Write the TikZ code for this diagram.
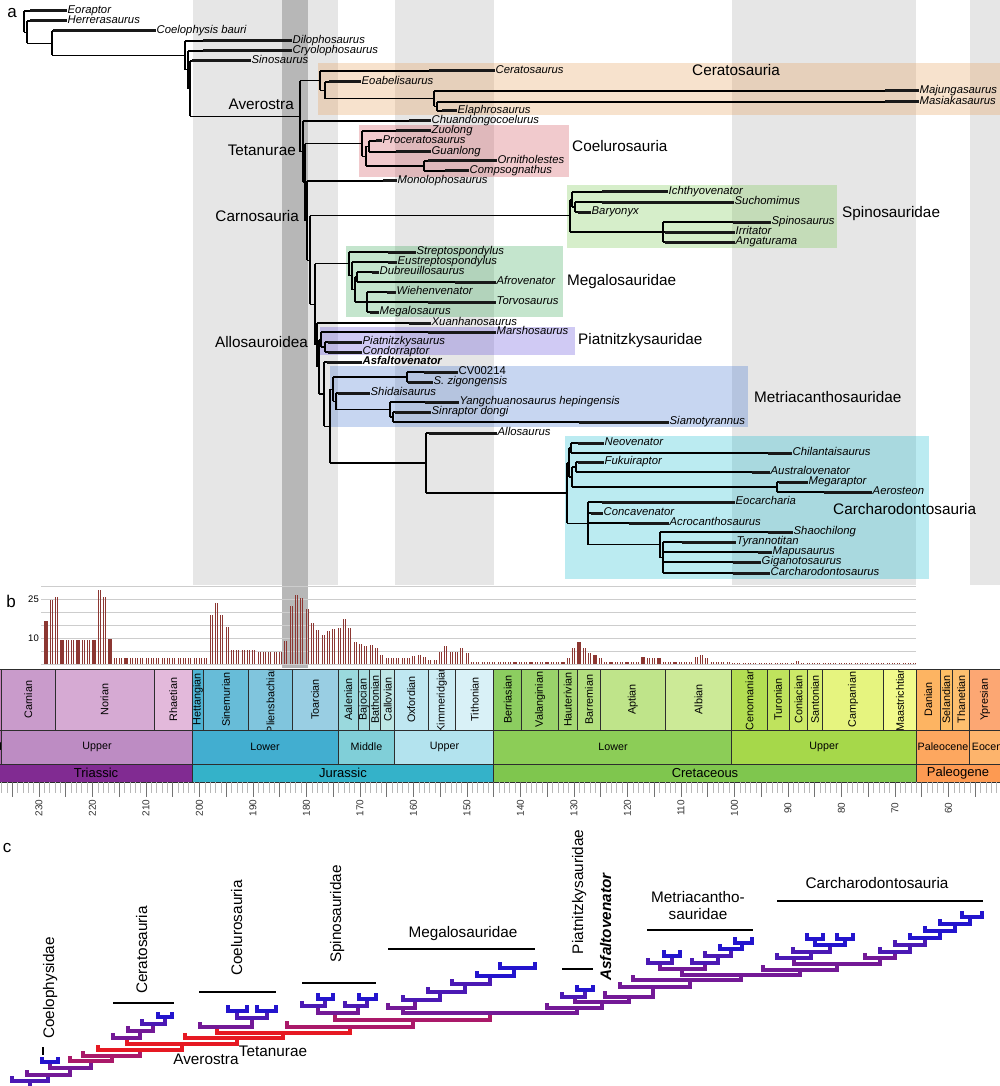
\documentclass[tikz,border=0pt]{standalone}
\usepackage{fontspec}
\setmainfont{Liberation Sans}
\definecolor{lg}{RGB}{230,230,230}
\definecolor{dg}{RGB}{183,183,183}
\definecolor{tsline}{RGB}{45,45,45}
\definecolor{barc}{RGB}{140,55,50}
\definecolor{gridc}{RGB}{205,205,205}
\definecolor{cB}{RGB}{35,20,205}
\definecolor{cBP}{RGB}{75,25,180}
\definecolor{cP}{RGB}{115,25,150}
\definecolor{cRP}{RGB}{170,25,105}
\definecolor{cR}{RGB}{230,25,35}
\definecolor{bxCer}{RGB}{230,160,90}
\definecolor{bxCoe}{RGB}{210,80,90}
\definecolor{bxSpi}{RGB}{120,200,80}
\definecolor{bxMeg}{RGB}{60,170,90}
\definecolor{bxPia}{RGB}{100,80,220}
\definecolor{bxMet}{RGB}{70,120,210}
\definecolor{bxCar}{RGB}{30,190,210}
\tikzset{
 br/.style={line width=1.1pt, black},
 bar/.style={line width=3pt, black!90},
 tx/.style={font=\fontsize{11.3}{12}\selectfont\itshape, inner sep=1pt, text height=8pt, text depth=2.2pt},
 clade/.style={font=\fontsize{15.3}{17}\selectfont, inner sep=0pt, text height=11pt, text depth=3pt},
 panel/.style={font=\fontsize{17}{19}\selectfont, inner sep=0pt},
 ylab/.style={font=\fontsize{9.5}{10}\selectfont, inner sep=1pt},
 stl/.style={font=\fontsize{10.8}{12}\selectfont, inner sep=0pt},
 epl/.style={font=\fontsize{10.7}{12}\selectfont, inner sep=0pt},
 pel/.style={font=\fontsize{13}{14}\selectfont, inner sep=0pt},
 tsl/.style={draw=tsline, line width=0.9pt},
 tkL/.style={draw=black!55, line width=0.8pt},
 tkS/.style={draw=black!28, line width=0.7pt},
 tlab/.style={font=\fontsize{10}{11}\selectfont, inner sep=0pt, text=black!80},
 barline/.style={draw=barc, line width=1.1pt},
 cline/.style={line width=3.4pt, line join=miter, line cap=butt},
 cbar/.style={line width=2pt, black},
 box/.style={opacity=0.3}
}
% leaf: [style]{name}{node x}{bar start}{label x}{y}{text}
\newcommand\leafx[7][]{%
 \draw[br] (#3,#6) -- (#4,#6);
 \node[tx,anchor=west,#1] (#2) at ({#5-1.5},#6) {#7};
 \draw[bar] (#4,#6) -- (#2.west);
}
\newcommand\vn[3]{\draw[br] (#1,#2) -- (#1,#3);}
\newcommand\hn[3]{\draw[br] (#1,#3) -- (#2,#3);}
\newcommand\cbk[6]{\draw[cline,#6] (#1,#4) -- (#1,#3) -- (#2,#3) -- (#2,#5);}
\newcommand\tsstage[4]{%
 \definecolor{tscol}{HTML}{#3}%
 \pgfmathsetmacro\tsa{1269.5-5.35*#1}%
 \pgfmathsetmacro\tsb{1269.5-5.35*#2}%
 \pgfmathsetmacro\tsm{(max(\tsa,0)+min(\tsb,1000))/2}%
 \fill[tscol] (\tsa,669) rectangle (\tsb,730);
 \begin{scope}\clip (\tsa,669) rectangle (\tsb,730);
 \node[stl,rotate=90] (st#4) at (\tsm,699.5) {#4};
 \end{scope}
 \draw[tsl] (\tsa,669) rectangle (\tsb,730);
}
\newcommand\tsepoch[6]{%
 \definecolor{tscol}{HTML}{#3}%
 \pgfmathsetmacro\tsa{1269.5-5.35*#1}%
 \pgfmathsetmacro\tsb{1269.5-5.35*#2}%
 \filldraw[fill=tscol,tsl] (\tsa,730) rectangle (\tsb,764);
 \node[epl] (#6) at (#5,747) {#4};
}
\newcommand\tsperiod[6]{%
 \definecolor{tscol}{HTML}{#3}%
 \pgfmathsetmacro\tsa{1269.5-5.35*#1}%
 \pgfmathsetmacro\tsb{1269.5-5.35*#2}%
 \filldraw[fill=tscol,tsl] (\tsa,764) rectangle (\tsb,782);
 \node[pel] (#6) at (#5,773) {#4};
}
\begin{document}
\begin{tikzpicture}[x=1pt,y=-1pt]
\useasboundingbox (0,0) rectangle (1000,1086);
\fill[white] (0,0) rectangle (1000,1086);
% ---------- stripes ----------
\fill[lg] (192.5,0) rectangle (338,585);
\fill[lg] (394.8,0) rectangle (494,585);
\fill[lg] (731.8,0) rectangle (916.4,585);
\fill[lg] (970,0) rectangle (1000,585);
\fill[dg] (282,0) rectangle (308,668);
% ---------- clade boxes ----------
\fill[bxCer,box] (318,63) rectangle (1000,115);
\fill[bxCoe,box] (359,125) rectangle (569,177);
\fill[bxSpi,box] (567,185) rectangle (837,248);
\fill[bxMeg,box] (346,246) rectangle (563,317);
\fill[bxPia,box] (320,327) rectangle (575,355);
\fill[bxMet,box] (330,366) rectangle (748,427);
\fill[bxCar,box] (565,436) rectangle (929,579);
% ---------- panel a: tree ----------
\node[panel] (pa) at (12,13) {a};
\vn{24}{11}{32.1} \vn{27}{21}{43.2} \vn{52}{31}{55.4} \vn{185}{41}{69.8}
\vn{188}{51}{88.6} \vn{190}{61}{116.2} \vn{300}{80.7}{151.6}
\vn{320}{71}{90.4} \vn{325}{82}{98.75} \vn{434}{91}{106.5} \vn{437}{102}{111}
\vn{303}{121}{182.1} \vn{305}{143.6}{220.6} \vn{362}{131}{156.3} \vn{366}{146.5}{166}
\vn{369}{141}{152} \vn{424}{161}{171} \vn{307}{181}{260.1} \vn{310}{215.8}{304.4}
\vn{570}{199.5}{232} \vn{572}{192}{207} \vn{575}{202}{212} \vn{663}{222}{242}
\vn{315}{263.9}{344.9} \vn{349}{252}{275.8} \vn{352}{262}{289.5} \vn{355}{277}{302}
\vn{357}{272}{282} \vn{367}{292}{312}
\vn{317}{323}{366.8} \vn{319}{339.5}{394} \vn{321}{332}{347} \vn{325}{342}{352}
\vn{324}{362}{426.1} \vn{330}{389.2}{463} \vn{333}{377}{401.3} \vn{407}{372}{382}
\vn{336}{393}{409.5} \vn{390}{402}{417} \vn{393}{412}{422}
\vn{426}{433}{493} \vn{567}{462.5}{523.4} \vn{569}{448}{477} \vn{571}{443}{453}
\vn{572}{467}{487} \vn{576}{462}{472} \vn{777}{482}{492} \vn{588}{502}{544.8}
\vn{660}{532}{557.5} \vn{663}{542}{573}
\hn{24}{27}{32.1} \hn{27}{52}{43.2} \hn{52}{185}{55.4} \hn{185}{188}{69.8}
\hn{188}{190}{88.6} \hn{190}{300}{116.2} \hn{300}{320}{80.7} \hn{320}{325}{90.4}
\hn{325}{434}{98.75} \hn{434}{437}{106.5} \hn{300}{303}{151.6} \hn{303}{305}{182.1}
\hn{305}{362}{143.6} \hn{362}{366}{156.3} \hn{366}{369}{146.5} \hn{366}{424}{166}
\hn{305}{307}{220.6} \hn{307}{310}{260.1} \hn{310}{570}{215.8} \hn{570}{572}{199.5}
\hn{572}{575}{207} \hn{570}{663}{232} \hn{310}{315}{304.4} \hn{315}{349}{263.9}
\hn{349}{352}{275.8} \hn{352}{355}{289.5} \hn{355}{357}{277} \hn{355}{367}{302}
\hn{315}{317}{344.9} \hn{317}{319}{366.8} \hn{319}{321}{339.5} \hn{321}{325}{347}
\hn{319}{324}{394} \hn{324}{330}{426.1} \hn{330}{333}{389.2} \hn{333}{407}{377}
\hn{333}{336}{401.3} \hn{336}{390}{409.5} \hn{390}{393}{417} \hn{330}{426}{463}
\hn{426}{567}{493} \hn{567}{569}{462.5} \hn{569}{571}{448} \hn{569}{572}{477}
\hn{572}{576}{467} \hn{572}{777}{487} \hn{567}{588}{523.4} \hn{588}{660}{544.8}
\hn{660}{663}{557.5}
\leafx{eor}{24}{30}{68}{11}{Eoraptor}
\leafx{her}{27}{30}{68}{21}{Herrerasaurus}
\leafx{coe}{52}{53}{157}{31}{Coelophysis bauri}
\leafx{dil}{185}{203}{293}{41}{Dilophosaurus}
\leafx{cry}{188}{203}{293}{51}{Cryolophosaurus}
\leafx{sin}{190}{192}{252}{61}{Sinosaurus}
\leafx{cer}{320}{429}{496}{71}{Ceratosaurus}
\leafx{eoa}{325}{329}{362}{82}{Eoabelisaurus}
\leafx{maj}{434}{885}{920}{91}{Majungasaurus}
\leafx{mas}{437}{885}{920}{102}{Masiakasaurus}
\leafx{ela}{437}{442}{458}{111}{Elaphrosaurus}
\leafx{chu}{303}{409}{432}{121}{Chuandongocoelurus}
\leafx{zuo}{362}{396}{432}{131}{Zuolong}
\leafx{pro}{369}{376}{383}{141}{Proceratosaurus}
\leafx{gua}{369}{396}{432}{152}{Guanlong}
\leafx{orn}{424}{428}{498}{161}{Ornitholestes}
\leafx{com}{424}{445}{470}{171}{Compsognathus}
\leafx{mon}{307}{383}{398}{181}{Monolophosaurus}
\leafx{ich}{572}{602}{669}{192}{Ichthyovenator}
\leafx{suc}{575}{602}{735}{202}{Suchomimus}
\leafx{bry}{575}{578}{592}{212}{Baryonyx}
\leafx{spi}{663}{733}{772}{222}{Spinosaurus}
\leafx{irr}{663}{665}{736}{232}{Irritator}
\leafx{ang}{663}{665}{736}{242}{Angaturama}
\leafx{stp}{349}{388}{417}{252}{Streptospondylus}
\leafx{eus}{352}{388}{398}{262}{Eustreptospondylus}
\leafx{dub}{357}{372}{380}{272}{Dubreuillosaurus}
\leafx{afr}{357}{455}{497}{282}{Afrovenator}
\leafx{wie}{367}{387}{397}{292}{Wiehenvenator}
\leafx{tor}{367}{428}{497}{302}{Torvosaurus}
\leafx{meg}{367}{370}{380}{312}{Megalosaurus}
\leafx{xua}{317}{409}{432}{323}{Xuanhanosaurus}
\leafx{mar}{321}{428}{497}{332}{Marshosaurus}
\leafx{pia}{325}{328}{363}{342}{Piatnitzkysaurus}
\leafx{con}{325}{328}{363}{352}{Condorraptor}
\leafx[font=\fontsize{11.3}{12}\selectfont\bfseries\itshape]{asf}{324}{327}{363}{362}{Asfaltovenator}
\leafx[font=\fontsize{11.3}{12}\selectfont\upshape]{cv}{407}{424}{459}{372}{CV00214}
\leafx{szi}{407}{408}{434}{382}{S. zigongensis}
\leafx{shi}{336}{338}{371}{393}{Shidaisaurus}
\leafx{yan}{390}{425}{460}{402}{Yangchuanosaurus hepingensis}
\leafx{sid}{393}{395}{432}{412}{Sinraptor dongi}
\leafx{sia}{393}{579}{670}{422}{Siamotyrannus}
\leafx{als}{426}{429}{498}{433}{Allosaurus}
\leafx{neo}{571}{578}{605}{443}{Neovenator}
\leafx{chi}{571}{768}{793}{453}{Chilantaisaurus}
\leafx{fuk}{576}{578}{605}{462}{Fukuiraptor}
\leafx{aus}{576}{752}{771}{472}{Australovenator}
\leafx{mgr}{777}{779}{809}{482}{Megaraptor}
\leafx{aer}{777}{824}{873}{492}{Aerosteon}
\leafx{eoc}{588}{602}{736}{502}{Eocarcharia}
\leafx{cnc}{588}{591}{604}{513}{Concavenator}
\leafx{acr}{588}{629}{670}{523}{Acrocanthosaurus}
\leafx{sha}{660}{768}{794}{532}{Shaochilong}
\leafx{tyr}{663}{682}{737}{542}{Tyrannotitan}
\leafx{map}{663}{758}{773}{552}{Mapusaurus}
\leafx{gig}{663}{733}{762}{562}{Giganotosaurus}
\leafx{car}{663}{733}{771}{573}{Carcharodontosaurus}
\node[clade,anchor=west] (lCer) at (692,72) {Ceratosauria};
\node[clade,anchor=west] (lCoe) at (572,148) {Coelurosauria};
\node[clade,anchor=west] (lSpi) at (842,214) {Spinosauridae};
\node[clade,anchor=west] (lMeg) at (567,281) {Megalosauridae};
\node[clade,anchor=west] (lPia) at (578,340) {Piatnitzkysauridae};
\node[clade,anchor=west] (lMet) at (754,398) {Metriacanthosauridae};
\node[clade,anchor=west] (lCar) at (833,510) {Carcharodontosauria};
\node[clade,anchor=east] (lAve) at (294,106) {Averostra};
\node[clade,anchor=east] (lTet) at (296,152) {Tetanurae};
\node[clade,anchor=east] (lCarn) at (299,218) {Carnosauria};
\node[clade,anchor=east] (lAll) at (308,343) {Allosauroidea};
% ---------- panel b: chart ----------
\node[panel] (pb) at (11,601) {b};
\foreach \j in {0,...,6}{\draw[gridc,line width=0.8pt] (41,{664-13*\j}) -- (916,{664-13*\j});}
\node[ylab,anchor=east] (y25) at (40,599) {25};
\node[ylab,anchor=east] (y10) at (40,638) {10};
\foreach \h [count=\k from 0] in {16.4,24.7,25.6,9.2,9.2,9.2,9.2,9.2,9.2,9.2,28.6,25.6,9.6,
2.2,2.2,2.2,2.2,2.2,2.2,2.2,2.2,2.2,2.2,2.2,2.2,2.2,2.2,2.2,2.2,2.2,2.2,
18.8,23.5,19,14.1,5.3,5.3,5.3,5.3,5.3,4.5,4.5,4.5,4.5,4.5,
8.8,22.4,26.5,25.4,21.2,15.6,13.2,11.3,12.6,13.5,14,17.3,13.8,8.3,7.7,7.1,7.3,6,3.5,
2.3,2.3,2.3,2.3,2.3,2.9,3.5,2.8,1.7,1.7,4.7,6.8,4.5,4.5,6,4.1,
0.6,0.6,0.6,0.6,0.6,0.6,0.6,0.6,0.6,0.6,0.6,0.6,0.6,0.6,0.6,0.6,0.6,0.6,
2.2,6.2,8.6,6.2,4.1,3.6,2.2,0.9,0.9,0.9,0.9,0.9,0.9,0.9,2.6,2.3,2.3,2.3,
0.6,0.6,0.6,0.6,0.6,0.6,2.8,3.6,2.3,0.6,0.6,0.6,0.6,
0.3,0.3,0.3,0.3,0.3,0.3,0.3,0.3,0.3,0.3,0.3,0.3,1,
0.3,0.3,0.3,0.3,0.3,0.3,0.3,0.3,0.3,0.3,0.3,0.3,0.3,0.3,0.3,0.3,0.3,0.3,0.3,0.3,0.3,0.3}{
 \pgfmathsetmacro\bx{46+5.33*\k}
 \pgfmathsetmacro\by{664-2.6*\h}
 \draw[barline] ({\bx-1},664) -- ({\bx-1},\by);
 \draw[barline] ({\bx+1},664) -- ({\bx+1},\by);
}
% ---------- time scale ----------
\begin{scope}
\clip (0,660) rectangle (1000,830);
\definecolor{ladc}{HTML}{C983BF}
\filldraw[fill=ladc,tsl] ({1269.5-5.35*242},669) rectangle ({1269.5-5.35*237},730);
\tsstage{237}{227}{C99BCB}{Carnian}
\tsstage{227}{208.5}{D6AAD3}{Norian}
\tsstage{208.5}{201.3}{E3B9DB}{Rhaetian}
\tsstage{201.3}{199.3}{4EB3D3}{Hettangian}
\tsstage{199.3}{190.8}{67BCD8}{Sinemurian}
\tsstage{190.8}{182.7}{80C5DD}{Pliensbachian}
\tsstage{182.7}{174.1}{99CEE3}{Toarcian}
\tsstage{174.1}{170.3}{9AD9DD}{Aalenian}
\tsstage{170.3}{168.3}{A6DDE0}{Bajocian}
\tsstage{168.3}{166.1}{B3E2E3}{Bathonian}
\tsstage{166.1}{163.5}{BFE7E5}{Callovian}
\tsstage{163.5}{157.3}{BFE7F1}{Oxfordian}
\tsstage{157.3}{152.1}{CCECF4}{Kimmeridgian}
\tsstage{152.1}{145}{D9F1F7}{Tithonian}
\tsstage{145}{139.8}{8CCD60}{Berriasian}
\tsstage{139.8}{132.9}{99D36A}{Valanginian}
\tsstage{132.9}{129.4}{A6D975}{Hauterivian}
\tsstage{129.4}{125}{B3DF7F}{Barremian}
\tsstage{125}{113}{BFE48A}{Aptian}
\tsstage{113}{100.5}{CCEA97}{Albian}
\tsstage{100.5}{93.9}{B3DE53}{Cenomanian}
\tsstage{93.9}{89.8}{BFE35D}{Turonian}
\tsstage{89.8}{86.3}{CCE968}{Coniacian}
\tsstage{86.3}{83.6}{D9EF74}{Santonian}
\tsstage{83.6}{72.1}{E6F47F}{Campanian}
\tsstage{72.1}{66}{F2FA8C}{Maastrichtian}
\tsstage{66}{61.6}{FDB462}{Danian}
\tsstage{61.6}{59.2}{FEBF65}{Selandian}
\tsstage{59.2}{56}{FDBF6F}{Thanetian}
\tsstage{56}{47.8}{FCA773}{Ypresian}
\tsepoch{247.2}{237}{B168B1}{Middle}{-5.5}{epMT}
\tsepoch{237}{201.3}{BD8CC3}{Upper}{97}{epUT}
\tsepoch{201.3}{174.1}{42AED0}{Lower}{265}{epLJ}
\tsepoch{174.1}{163.5}{80CFD8}{Middle}{366.5}{epMJ}
\tsepoch{163.5}{145}{B3E3EE}{Upper}{444.5}{epUJ}
\tsepoch{145}{100.5}{8CCD57}{Lower}{613}{epLK}
\tsepoch{100.5}{66}{A6D84A}{Upper}{824}{epUK}
\tsepoch{66}{56}{FDA75F}{Paleocene}{943}{epPa}
\tsepoch{56}{33.9}{FDB46C}{Eocene}{990}{epEo}
\tsperiod{251.9}{201.3}{812B92}{Triassic}{96}{pT}
\tsperiod{201.3}{145}{34B2C9}{Jurassic}{343}{pJ}
\tsperiod{145}{66}{7FC64E}{Cretaceous}{705}{pK}
\tsperiod{66}{23}{FD9A52}{Paleogene}{958}{pPg}
\foreach \m in {50,...,237}{
 \pgfmathsetmacro\tkx{1269.5-5.35*\m}
 \pgfmathtruncatemacro\rr{mod(\m,5)}
 \ifnum\rr=0 \draw[tkL] (\tkx,782) -- (\tkx,797); \else \draw[tkS] (\tkx,782) -- (\tkx,793); \fi
}
\foreach \m in {60,70,...,230}{
 \node[tlab,rotate=90] (tk\m) at ({1269.5-5.35*\m},808) {\m};
}
\end{scope}
% ---------- panel c ----------
\node[panel] (pc) at (7,848) {c};
\draw[cline,cBP] (30,1086) -- (30,1081);
\cbk{12}{48}{1081}{1076}{1075}{cBP}
\cbk{27}{70}{1075}{1070}{1068}{cP}
\cbk{50}{91}{1068}{1062}{1061}{cP}
\cbk{42}{58}{1062}{1057}{1057}{cB}
\cbk{70}{112}{1061}{1056}{1056}{cRP}
\cbk{83}{140}{1056}{1051}{1050}{cRP}
\cbk{98}{182}{1050}{1045}{1044}{cR}
\cbk{127}{237}{1044}{1038}{1038}{cR}
\cbk{113}{140}{1038}{1033}{1031}{cP}
\cbk{128}{153}{1031}{1026}{1024}{cP}
\cbk{142}{165}{1024}{1019}{1017}{cBP}
\cbk{158}{172}{1017}{1012}{1012}{cB}
\cbk{185}{283}{1038}{1033}{1033}{cR}
\cbk{217}{350}{1033}{1027}{1027}{cR}
\cbk{200}{252}{1027}{1022}{1018}{cP}
\cbk{237}{267}{1018}{1011}{1011}{cBP}
\cbk{228}{247}{1011}{1005}{1005}{cB}
\cbk{257}{276}{1011}{1005}{1005}{cB}
\cbk{287}{413}{1027}{1021}{1020}{cRP}
\cbk{335}{490}{1020}{1013}{1013}{cRP}
\cbk{318}{358}{1013}{1006}{1006}{cP}
\cbk{302}{325}{1006}{1001}{999}{cBP}
\cbk{318}{333}{999}{993}{993}{cB}
\cbk{345}{367}{1006}{1001}{999}{cBP}
\cbk{359}{376}{999}{993}{993}{cB}
\cbk{403}{577}{1013}{1008}{1008}{cP}
\cbk{388}{415}{1008}{1003}{1000}{cP}
\cbk{403}{440}{1000}{995}{992}{cBP}
\cbk{428}{465}{992}{987}{984}{cBP}
\cbk{452}{490}{984}{979}{976}{cBP}
\cbk{477}{514}{976}{971}{968}{cB}
\cbk{500}{535}{968}{962}{962}{cB}
\cbk{547}{602}{1008}{1003}{1002}{cP}
\cbk{575}{629}{1002}{997}{997}{cP}
\cbk{562}{585}{997}{992}{990}{cBP}
\cbk{577}{593}{990}{985}{985}{cB}
\cbk{605}{653}{997}{991}{987}{cP}
\cbk{620}{690}{987}{982}{980}{cP}
\cbk{633}{741}{980}{975}{975}{cP}
\cbk{682}{800}{975}{969}{970}{cP}
\cbk{660}{705}{969}{963}{963}{cP}
\cbk{648}{672}{963}{958}{956}{cBP}
\cbk{664}{680}{956}{950}{950}{cB}
\cbk{692}{718}{963}{958}{956}{cBP}
\cbk{705}{731}{956}{951}{949}{cBP}
\cbk{720}{742}{949}{944}{943}{cB}
\cbk{735}{752}{943}{937}{937}{cB}
\cbk{763}{837}{970}{965}{964}{cP}
\cbk{794}{880}{964}{958}{958}{cP}
\cbk{777}{811}{958}{953}{952}{cBP}
\cbk{793}{830}{952}{947}{945}{cBP}
\cbk{815}{845}{945}{939}{939}{cB}
\cbk{807}{823}{939}{933}{933}{cB}
\cbk{837}{853}{939}{933}{933}{cB}
\cbk{865}{895}{958}{953}{952}{cP}
\cbk{880}{910}{952}{947}{945}{cBP}
\cbk{895}{925}{945}{940}{938}{cBP}
\cbk{910}{940}{938}{933}{931}{cB}
\cbk{925}{955}{931}{926}{924}{cB}
\cbk{940}{970}{924}{919}{917}{cB}
\cbk{962}{982}{917}{911}{911}{cB}
\draw[cbar] (43,1047) -- (43,1055);
\draw[cbar] (113,1003) -- (174,1003);
\draw[cbar] (199,992) -- (276,992);
\draw[cbar] (302,983) -- (376,983);
\draw[cbar] (388,949) -- (535,949);
\draw[cbar] (562,969) -- (593,969);
\draw[cbar] (647,930) -- (753,930);
\draw[cbar] (777,901) -- (983,901);
\node[clade,rotate=90] (cCoel) at (50,988) {Coelophysidae};
\node[clade,rotate=90] (cCer) at (143,950) {Ceratosauria};
\node[clade,rotate=90] (cCoe) at (238,928) {Coelurosauria};
\node[clade,rotate=90] (cSpi) at (337,914) {Spinosauridae};
\node[clade] (cMeg) at (463,933) {Megalosauridae};
\node[clade,rotate=90] (cPia) at (579,892) {Piatnitzkysauridae};
\node[clade,rotate=90,font=\fontsize{15.3}{17}\selectfont\bfseries\itshape] (cAsf) at (607,927) {Asfaltovenator};
\node[clade,align=center,text height=,text depth=] (cMet) at (698,906) {Metriacantho-\\sauridae};
\node[clade] (cCar) at (877,884) {Carcharodontosauria};
\node[clade] (cAve) at (206,1060) {Averostra};
\node[clade] (cTet) at (273,1052) {Tetanurae};
\end{tikzpicture}
\end{document}
